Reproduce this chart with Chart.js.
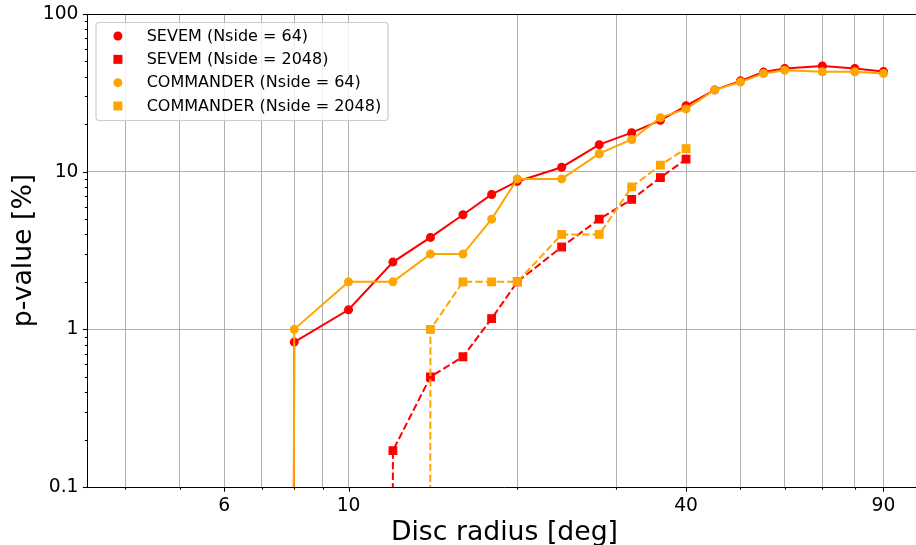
<!DOCTYPE html>
<html>
<head>
<meta charset="utf-8">
<script src="https://cdn.jsdelivr.net/npm/chart.js@4/dist/chart.umd.min.js"></script>
<style>
html,body{margin:0;padding:0;background:#fff;overflow:hidden;}
#wrap{width:916px;height:545px;overflow:hidden;position:relative;background:#fff;}
canvas{display:block;}
</style>
</head>
<body>
<div id="wrap"><canvas id="c" width="928" height="545"></canvas></div>
<script>
// ---------------- data ----------------
const radii64   = [4, 6, 8, 10, 12, 14, 16, 18, 20, 24, 28, 32, 36, 40, 45, 50, 55, 60, 70, 80, 90];
const sevem64   = [0, 0, 0.83, 1.33, 2.67, 3.83, 5.33, 7.17, 8.67, 10.67, 14.83, 17.67, 21.17, 26.17, 33.0, 37.67, 42.83, 45.17, 46.83, 45.17, 43.17];
const commander64 = [0, 0, 1, 2, 2, 3, 3, 5, 9, 9, 13, 16, 22, 25, 33, 37, 42, 44, 43, 43, 42];

const radii2048 = [4, 6, 8, 10, 12, 14, 16, 18, 20, 24, 28, 32, 36, 40];
const sevem2048 = [0, 0, 0, 0, 0.17, 0.5, 0.67, 1.17, 2.0, 3.33, 5.0, 6.67, 9.17, 12.0];
const commander2048 = [0, 0, 0, 0, 0, 1, 2, 2, 2, 4, 4, 8, 11, 14];

const seriesLabels = ['SEVEM (Nside = 64)', 'SEVEM (Nside = 2048)', 'COMMANDER (Nside = 64)', 'COMMANDER (Nside = 2048)'];

const xTickValues = [4, 5, 6, 7, 8, 9, 10, 20, 30, 40, 50, 60, 70, 80, 90];
const xTickLabelled = [6, 10, 40, 90];
const yTickValues = [0.1,0.2,0.3,0.4,0.5,0.6,0.7,0.8,0.9,1,2,3,4,5,6,7,8,9,10,20,30,40,50,60,70,80,90,100];
const yTickLabelled = [0.1, 1, 10, 100];

// axis limits (matplotlib auto-limits with 5% log margin)
const X_MIN = 3.4229, X_MAX = 105.16;
const Y_MIN = 0.1, Y_MAX = 100;
// non-positive values are clipped far below the axis, as a log plot does
const CLIP_FLOOR = 1e-300;

// ---------------- chart ----------------
const FONT = 'DejaVu Sans';
Chart.defaults.font.family = FONT;
Chart.defaults.color = '#000';

const RED = '#ff0000', ORANGE = '#ffa500';
const toPts = (xs, ys) => xs.map((x, i) => ({x: x, y: ys[i] > 0 ? ys[i] : CLIP_FLOOR}));

const styles = [
  {color: RED, shape: 'circle', dash: []},
  {color: RED, shape: 'rect', dash: [7.4, 3.2]},
  {color: ORANGE, shape: 'circle', dash: []},
  {color: ORANGE, shape: 'rect', dash: [7.4, 3.2]}
];
const seriesData = [toPts(radii64, sevem64), toPts(radii2048, sevem2048), toPts(radii64, commander64), toPts(radii2048, commander2048)];

const datasets = seriesData.map((d, i) => ({
  label: seriesLabels[i],
  data: d,
  borderColor: styles[i].color,
  backgroundColor: styles[i].color,
  pointBackgroundColor: styles[i].color,
  pointBorderColor: styles[i].color,
  pointStyle: styles[i].shape,
  pointRadius: styles[i].shape === 'rect' ? 5.4 : 3.9,
  pointBorderWidth: 1.2,
  borderWidth: 2,
  borderDash: styles[i].dash,
  tension: 0,
  fill: false,
  order: 4 - i
}));

const decor = {
  id: 'decor',
  afterDraw(chart) {
    const ctx = chart.ctx, a = chart.chartArea;
    const xs = chart.scales.x, ys = chart.scales.y;
    ctx.save();
    ctx.strokeStyle = '#000';
    ctx.lineWidth = 1.07;
    // top spine
    ctx.beginPath();
    ctx.moveTo(a.left, a.top + 0.5);
    ctx.lineTo(a.right + 10, a.top + 0.5);
    ctx.stroke();
    // x tick marks
    xTickValues.forEach(v => {
      const px = Math.round(xs.getPixelForValue(v)) + 0.5;
      const len = xTickLabelled.includes(v) ? 4.7 : 2.7;
      ctx.beginPath();
      ctx.moveTo(px, a.bottom);
      ctx.lineTo(px, a.bottom + len);
      ctx.stroke();
    });
    // y tick marks
    yTickValues.forEach(v => {
      const py = Math.round(ys.getPixelForValue(v)) + 0.5;
      const len = yTickLabelled.includes(v) ? 4.7 : 2.7;
      ctx.beginPath();
      ctx.moveTo(a.left, py);
      ctx.lineTo(a.left - len, py);
      ctx.stroke();
    });
    // legend
    const fs = 16;
    ctx.font = fs + 'px "' + FONT + '"';
    let tw = 0;
    seriesLabels.forEach(t => { tw = Math.max(tw, ctx.measureText(t).width); });
    const pad = 0.4 * fs, handle = 2.0 * fs, gap = 0.8 * fs, spacing = 0.5 * fs, rowH = 15.3;
    const bx = a.left + 0.5 * fs, by = a.top + 0.5 * fs;
    const bw = pad + handle + gap + tw + pad;
    const bh = pad * 2 + rowH * seriesLabels.length + spacing * (seriesLabels.length - 1);
    ctx.beginPath();
    ctx.roundRect(bx + 0.5, by + 0.5, bw, bh, 3.2);
    ctx.fillStyle = 'rgba(255,255,255,0.8)';
    ctx.fill();
    ctx.strokeStyle = '#cccccc';
    ctx.lineWidth = 1.2;
    ctx.stroke();
    seriesLabels.forEach((t, i) => {
      const cy = by + pad + rowH / 2 + i * (rowH + spacing);
      const mx = bx + pad + handle / 2;
      ctx.fillStyle = styles[i].color;
      ctx.beginPath();
      if (styles[i].shape === 'circle') {
        ctx.arc(mx, cy, 4.5, 0, Math.PI * 2);
      } else {
        ctx.rect(mx - 4.5, cy - 4.5, 9, 9);
      }
      ctx.fill();
      ctx.fillStyle = '#000';
      ctx.textBaseline = 'middle';
      ctx.textAlign = 'left';
      ctx.fillText(t, bx + pad + handle + gap, cy + 0.5);
    });
    ctx.restore();
  }
};

new Chart(document.getElementById('c'), {
  type: 'line',
  data: {datasets: datasets},
  options: {
    responsive: false,
    animation: false,
    events: [],
    layout: {padding: {left: 0, top: 14, right: 6, bottom: 0}},
    plugins: {legend: {display: false}, tooltip: {enabled: false}},
    scales: {
      x: {
        type: 'logarithmic',
        min: X_MIN, max: X_MAX,
        afterBuildTicks: s => { s.ticks = xTickValues.map(v => ({value: v})); },
        afterFit: s => { s.height = 58; s.paddingLeft = 0; s.paddingRight = 0; },
        ticks: {
          autoSkip: false, maxRotation: 0, minRotation: 0, padding: 7.5,
          font: {size: 18.7}, color: '#000',
          callback: v => xTickLabelled.includes(v) ? String(v) : ''
        },
        grid: {color: '#b0b0b0', lineWidth: 1, drawTicks: false},
        border: {display: true, color: '#000', width: 1},
        title: {display: true, text: 'Disc radius [deg]', color: '#000', font: {size: 26.7, lineHeight: 0.9}, padding: {top: 0, bottom: 0.4}}
      },
      y: {
        type: 'logarithmic',
        min: Y_MIN, max: Y_MAX,
        afterBuildTicks: s => { s.ticks = yTickValues.map(v => ({value: v})); },
        afterFit: s => { s.width = 87.5; s.paddingTop = 0; s.paddingBottom = 0; },
        ticks: {
          autoSkip: false, padding: 9,
          font: {size: 18.7}, color: '#000',
          callback: v => yTickLabelled.includes(v) ? String(v) : ''
        },
        grid: {
          color: c => (c.tick && yTickLabelled.includes(c.tick.value)) ? '#b0b0b0' : 'rgba(0,0,0,0)',
          lineWidth: 1, drawTicks: false
        },
        border: {display: true, color: '#000', width: 1},
        title: {display: true, text: 'p-value [%]', color: '#000', font: {size: 26.7, lineHeight: 0.9}, padding: {top: 12, bottom: 0}}
      }
    }
  },
  plugins: [decor]
});
</script>
</body>
</html>
